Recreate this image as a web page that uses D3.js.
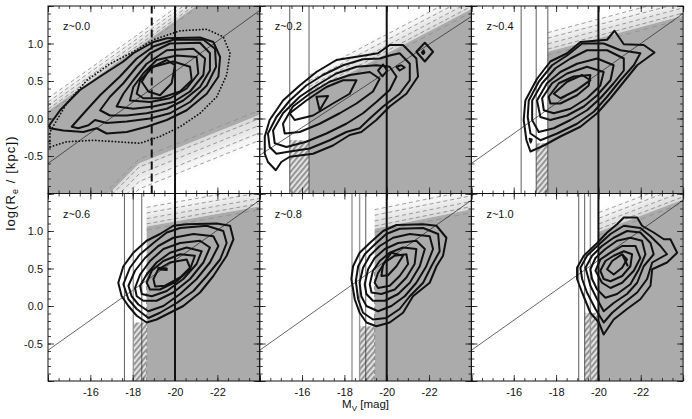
<!DOCTYPE html>
<html><head><meta charset="utf-8">
<script src="https://cdn.jsdelivr.net/npm/d3@7"></script>
<style>
body{margin:0;background:#fff}
svg{display:block}
text{font-family:"Liberation Sans",Arial,Helvetica,sans-serif;fill:#111}
</style>
</head><body>
<svg id="c" width="692" height="419"></svg>
<script>
// ---------------- data ----------------
const redshiftLabels = ["z~0.0","z~0.2","z~0.4","z~0.6","z~0.8","z~1.0"];
const xDomain = [-14, -24];
const yDomain = [-1, 1.5];
const xTickLabels = [-16, -18, -20, -22];
const yTickLabels = [1.0, 0.5, 0.0, -0.5];
const xMajor = [-14, -16, -18, -20, -22, -24];
const yMajor = [-1, -0.5, 0, 0.5, 1, 1.5];

// bright magnitude cut (thick solid line) per panel
const brightCut = [-20, -20, -20, -20, -20, -20];
// dashed thick cut in the z~0.0 panel
const dashedCutZ00 = -18.9;
// thin dark magnitude limits per panel
const thinCuts = [[], [-15.42, -16.33], [-16.35, -17.06, -17.61], [-17.61, -18.43], [-19.01], [-19.07, -19.35]];
// thin gray magnitude limits per panel
const grayCuts = [[], [], [], [-18.03], [-18.36, -18.72], [-19.62]];
// dashed gray completeness limit per panel
const dashCuts = [null, null, null, -18.66, -19.43, -20.02];
// hatched completeness strips [faint edge, bright edge, top logR]
const strips = [null, [-15.42, -16.33, -0.29], [-17.06, -17.61, -0.33], [-18.03, -18.66, -0.22], [-18.72, -19.43, -0.27], [-19.35, -20.02, -0.09]];
// reference size-luminance relation: logR at M=-14 and at M=-24
const relAt14 = [-0.60, -0.49, -0.60, -0.59, -0.59, -0.59];
const relAt24 = [1.44, 1.36, 1.40, 1.41, 1.41, 1.41];

// gray selection regions (M, logR)
const grayZ00 = [[-14,-1],[-14,0.1],[-21,1.5],[-24,1.5],[-24,0.05],[-18.3,-0.6],[-16.9,-1]];
const grayZ02 = [[-16.33,-1],[-16.33,0.32],[-24,1.46],[-24,-1]];
const grayZ04 = [[-17.61,-1],[-17.61,0.89],[-24,1.37],[-24,-1]];
const grayZ06 = [[-18.66,-1],[-18.66,1.06],[-24,1.33],[-24,-1]];
const grayZ08 = [[-19.43,-1],[-19.43,1.03],[-24,1.29],[-24,-1]];
const grayZ10 = [[-20.02,-1],[-20.02,0.99],[-24,1.42],[-24,-1]];

// fading (hatched) edges of the gray regions: polyline, direction, width in dex
const fadesZ00 = [{pts: [[-14,0.1],[-24,2.1]], dir: 1, w: 0.2},
                  {pts: [[-14,-1.7],[-16.9,-1],[-18.3,-0.6],[-24,0.05]], dir: -1, w: 0.4}];
const fadesZ02 = [{pts: [[-16.33,0.32],[-24,1.46]], dir: 1, w: 0.3}];
const fadesZ04 = [{pts: [[-17.61,0.89],[-24,1.37]], dir: 1, w: 0.3}];
const fadesZ06 = [{pts: [[-18.66,1.06],[-24,1.33]], dir: 1, w: 0.3}];
const fadesZ08 = [{pts: [[-19.43,1.03],[-24,1.29]], dir: 1, w: 0.3}];
const fadesZ10 = [{pts: [[-20.02,0.99],[-24,1.42]], dir: 1, w: 0.3}];

// density contours (M_V, logR_e)
const contoursZ00 = [
 [[-14.06,-0.09],[-14.57,0.11],[-15.51,0.38],[-16.46,0.56],[-17.56,0.76],[-18.03,0.87],[-18.98,1.02],[-19.61,1.07],[-21.18,1.08],[-21.81,1.02],[-22.13,0.82],[-22.05,0.56],[-21.50,0.33],[-20.55,0.11],[-19.61,-0.02],[-18.66,-0.11],[-17.72,-0.18],[-16.77,-0.20],[-16.30,-0.13],[-15.67,-0.18],[-14.72,-0.16],[-14.09,-0.13]],
 [[-15.12,-0.11],[-15.75,0.09],[-16.46,0.31],[-17.40,0.56],[-18.19,0.80],[-18.98,0.96],[-19.92,1.05],[-21.34,1.05],[-21.89,0.93],[-21.94,0.69],[-21.50,0.44],[-20.71,0.22],[-19.76,0.07],[-18.82,0.0],[-17.72,-0.04],[-16.77,-0.06],[-16.22,-0.02],[-15.91,-0.09],[-15.43,-0.13]],
 [[-16.46,0.11],[-16.93,0.29],[-17.56,0.47],[-18.19,0.69],[-18.82,0.87],[-19.76,1.0],[-21.18,1.01],[-21.65,0.87],[-21.65,0.64],[-21.18,0.42],[-20.39,0.24],[-19.61,0.13],[-18.66,0.07],[-17.72,0.04],[-16.93,0.04]],
 [[-17.24,0.16],[-17.56,0.33],[-18.03,0.51],[-18.66,0.73],[-19.61,0.91],[-20.87,0.93],[-21.42,0.8],[-21.34,0.58],[-20.71,0.36],[-19.92,0.22],[-18.98,0.16],[-18.03,0.13]],
 [[-17.87,0.24],[-18.03,0.42],[-18.50,0.6],[-19.13,0.78],[-20.08,0.84],[-21.02,0.82],[-21.10,0.6],[-20.55,0.4],[-19.76,0.27],[-18.82,0.22]],
 [[-18.19,0.33],[-18.35,0.51],[-18.98,0.69],[-19.92,0.76],[-20.71,0.69],[-20.79,0.51],[-20.24,0.36],[-19.29,0.27],[-18.50,0.27]],
 [[-18.43,0.49],[-18.82,0.67],[-19.61,0.78],[-20.0,0.71],[-19.84,0.47],[-19.29,0.31],[-18.74,0.36]]
];
const dottedZ00 = [[-14.09,-0.38],[-14.09,-0.18],[-14.88,0.2],[-15.83,0.51],[-16.93,0.73],[-18.03,0.89],[-18.98,1.05],[-20.24,1.17],[-21.5,1.19],[-22.28,1.09],[-22.6,0.87],[-22.44,0.58],[-21.97,0.29],[-21.18,0.07],[-20.24,-0.11],[-19.29,-0.24],[-18.35,-0.33],[-17.24,-0.31],[-16.14,-0.29],[-14.88,-0.31]];

const contoursZ02 = [
 [[-14.24,-0.24],[-14.47,-0.02],[-15.10,0.24],[-15.89,0.44],[-16.68,0.62],[-17.62,0.78],[-18.72,0.83],[-19.59,0.87],[-20.14,0.98],[-20.77,0.98],[-21.40,0.8],[-21.48,0.56],[-20.93,0.33],[-20.14,0.16],[-19.51,-0.02],[-18.80,-0.18],[-18.25,-0.22],[-17.46,-0.36],[-16.52,-0.47],[-15.42,-0.51],[-15.02,-0.58],[-14.76,-0.69],[-14.39,-0.58],[-14.24,-0.47]],
 [[-14.39,-0.2],[-14.79,0.02],[-15.42,0.24],[-16.20,0.44],[-16.99,0.58],[-17.94,0.71],[-18.88,0.79],[-19.67,0.8],[-20.14,0.84],[-20.61,0.87],[-21.09,0.73],[-21.09,0.51],[-20.61,0.33],[-19.83,0.16],[-19.20,0.0],[-18.72,-0.13],[-18.09,-0.18],[-17.31,-0.29],[-16.36,-0.4],[-15.42,-0.44],[-14.79,-0.47],[-14.47,-0.38]],
 [[-14.63,-0.16],[-15.10,0.07],[-15.89,0.29],[-16.68,0.44],[-17.62,0.6],[-18.57,0.69],[-19.51,0.71],[-20.14,0.69],[-20.46,0.56],[-20.14,0.38],[-19.51,0.22],[-18.88,0.07],[-18.09,-0.07],[-17.15,-0.2],[-16.20,-0.31],[-15.26,-0.38],[-14.71,-0.33]],
 [[-15.10,-0.07],[-15.57,0.16],[-16.36,0.33],[-17.31,0.49],[-18.25,0.58],[-19.20,0.62],[-19.67,0.53],[-19.35,0.36],[-18.57,0.2],[-17.78,0.07],[-16.83,-0.07],[-15.89,-0.18],[-15.18,-0.2]],
 [[-15.42,0.07],[-16.20,0.24],[-17.15,0.42],[-17.94,0.51],[-18.57,0.51],[-18.25,0.33],[-17.46,0.2],[-16.52,0.04],[-15.65,-0.02]],
 [[-16.68,0.29],[-17.23,0.3],[-16.83,0.11]],
 [[-19.59,0.64],[-19.83,0.72],[-20.02,0.64],[-19.80,0.56]],
 [[-20.46,0.69],[-20.69,0.71],[-20.85,0.68],[-20.61,0.64]],
 [[-21.40,0.89],[-21.80,1.01],[-22.19,0.89],[-21.80,0.76]],
 [[-21.66,0.88],[-21.74,0.91],[-21.78,0.88],[-21.72,0.86]]
];

const contoursZ04 = [
 [[-16.55,0.24],[-17.10,0.53],[-17.73,0.76],[-18.52,0.87],[-19.15,1.02],[-20.41,1.05],[-20.76,1.17],[-21.20,0.99],[-22.14,0.98],[-22.65,0.88],[-21.83,0.71],[-21.20,0.49],[-20.57,0.27],[-19.94,0.07],[-19.15,-0.11],[-18.20,-0.24],[-17.42,-0.36],[-16.79,-0.44],[-16.60,-0.29],[-16.47,-0.02]],
 [[-16.71,0.24],[-17.18,0.49],[-17.81,0.71],[-18.52,0.84],[-19.23,1.0],[-20.25,1.0],[-21.04,0.91],[-21.98,0.87],[-21.67,0.71],[-21.04,0.51],[-20.41,0.29],[-19.78,0.09],[-18.99,-0.07],[-18.05,-0.2],[-17.26,-0.29],[-16.79,-0.2],[-16.66,0.02]],
 [[-16.87,0.24],[-17.34,0.47],[-17.97,0.67],[-18.68,0.8],[-19.46,0.91],[-20.41,0.91],[-21.20,0.8],[-21.20,0.64],[-20.72,0.47],[-20.09,0.27],[-19.46,0.11],[-18.68,-0.02],[-17.89,-0.13],[-17.18,-0.18],[-16.87,-0.02]],
 [[-17.10,0.24],[-17.57,0.47],[-18.20,0.62],[-18.99,0.73],[-19.94,0.8],[-20.72,0.71],[-20.57,0.51],[-19.94,0.31],[-19.31,0.16],[-18.52,0.04],[-17.73,-0.02],[-17.26,0.02]],
 [[-17.34,0.27],[-17.81,0.47],[-18.52,0.6],[-19.46,0.69],[-20.25,0.62],[-20.09,0.44],[-19.46,0.27],[-18.68,0.13],[-17.89,0.07],[-17.42,0.11]],
 [[-17.65,0.29],[-18.13,0.47],[-18.83,0.56],[-19.62,0.58],[-19.54,0.44],[-18.99,0.31],[-18.20,0.2],[-17.73,0.2]],
 [[-17.89,0.33],[-18.52,0.49],[-19.23,0.58],[-19.62,0.51],[-18.99,0.38],[-18.20,0.27]],
 [[-16.75,-0.27],[-16.85,-0.28],[-16.80,-0.32]]
];

const contoursZ06 = [
 [[-17.32,0.31],[-17.56,0.53],[-18.03,0.71],[-18.66,0.87],[-19.29,0.96],[-19.92,1.07],[-20.55,1.09],[-21.97,1.10],[-22.60,1.07],[-22.76,0.89],[-22.44,0.67],[-21.81,0.4],[-21.18,0.18],[-20.39,0.0],[-19.76,-0.09],[-19.13,-0.18],[-18.66,-0.22],[-18.19,-0.13],[-17.80,0.0],[-17.48,0.13]],
 [[-17.56,0.29],[-17.87,0.51],[-18.35,0.69],[-18.98,0.84],[-19.61,0.98],[-20.24,1.04],[-21.50,1.07],[-22.28,1.0],[-22.44,0.84],[-22.13,0.62],[-21.50,0.4],[-20.87,0.2],[-20.08,0.04],[-19.29,-0.09],[-18.74,-0.16],[-18.19,-0.04],[-17.80,0.09]],
 [[-17.80,0.27],[-18.11,0.47],[-18.58,0.64],[-19.21,0.8],[-19.92,0.91],[-20.87,0.96],[-21.81,0.93],[-22.05,0.8],[-21.65,0.58],[-21.02,0.36],[-20.24,0.16],[-19.45,0.0],[-18.74,-0.07],[-18.27,0.02],[-17.95,0.13]],
 [[-18.11,0.24],[-18.35,0.42],[-18.82,0.6],[-19.45,0.76],[-20.24,0.84],[-21.18,0.87],[-21.65,0.78],[-21.34,0.58],[-20.71,0.36],[-19.92,0.18],[-19.13,0.07],[-18.50,0.07],[-18.19,0.13]],
 [[-18.35,0.27],[-18.66,0.42],[-19.13,0.58],[-19.76,0.71],[-20.55,0.78],[-21.26,0.73],[-21.02,0.56],[-20.39,0.36],[-19.61,0.2],[-18.90,0.13],[-18.43,0.16]],
 [[-18.66,0.31],[-18.90,0.47],[-19.45,0.6],[-20.24,0.69],[-20.94,0.67],[-20.71,0.49],[-20.08,0.33],[-19.29,0.22],[-18.82,0.22]],
 [[-18.98,0.36],[-19.21,0.49],[-19.76,0.58],[-20.55,0.62],[-20.71,0.51],[-20.24,0.38],[-19.53,0.27],[-19.06,0.26]],
 [[-19.21,0.51],[-19.61,0.50],[-19.61,0.48],[-19.21,0.49]]
];

const contoursZ08 = [
 [[-18.33,0.36],[-18.41,0.53],[-18.72,0.71],[-19.20,0.84],[-19.83,1.0],[-20.46,1.08],[-21.72,1.09],[-22.35,1.07],[-22.82,0.91],[-22.66,0.67],[-22.35,0.53],[-22.03,0.31],[-21.24,0.13],[-20.77,-0.09],[-20.14,-0.22],[-19.51,-0.27],[-19.04,-0.22],[-18.72,-0.09],[-18.49,0.09]],
 [[-18.54,0.33],[-18.65,0.53],[-18.96,0.69],[-19.43,0.82],[-19.98,0.96],[-20.61,1.03],[-21.72,1.04],[-22.43,0.96],[-22.50,0.73],[-22.11,0.53],[-21.72,0.31],[-21.09,0.13],[-20.61,-0.04],[-19.98,-0.16],[-19.35,-0.18],[-18.88,-0.09],[-18.65,0.09]],
 [[-18.72,0.31],[-18.88,0.51],[-19.20,0.67],[-19.67,0.8],[-20.30,0.91],[-21.09,0.96],[-22.03,0.93],[-22.19,0.76],[-21.87,0.53],[-21.40,0.31],[-20.85,0.13],[-20.22,0.0],[-19.59,-0.07],[-19.04,0.0],[-18.80,0.13]],
 [[-18.96,0.29],[-19.12,0.49],[-19.43,0.64],[-19.91,0.76],[-20.54,0.84],[-21.40,0.87],[-21.80,0.76],[-21.56,0.53],[-21.09,0.31],[-20.54,0.16],[-19.91,0.07],[-19.35,0.07],[-19.04,0.16]],
 [[-19.20,0.29],[-19.35,0.47],[-19.67,0.6],[-20.14,0.71],[-20.77,0.78],[-21.40,0.76],[-21.32,0.56],[-20.93,0.38],[-20.38,0.22],[-19.75,0.16],[-19.28,0.18]],
 [[-19.43,0.31],[-19.59,0.44],[-19.91,0.58],[-20.38,0.67],[-20.93,0.69],[-21.01,0.56],[-20.61,0.4],[-20.14,0.27],[-19.59,0.24]],
 [[-19.75,0.4],[-19.83,0.56],[-20.22,0.71],[-20.77,0.67],[-20.46,0.53],[-20.06,0.41]]
];

const contoursZ10 = [
 [[-18.99,0.51],[-19.31,0.67],[-19.94,0.84],[-20.41,0.98],[-20.88,1.09],[-21.20,1.18],[-21.83,1.18],[-22.06,1.07],[-22.61,0.98],[-23.09,0.89],[-23.40,0.89],[-23.72,0.71],[-23.24,0.58],[-22.54,0.49],[-22.46,0.27],[-21.98,0.09],[-21.35,-0.04],[-20.72,-0.18],[-20.25,-0.38],[-20.02,-0.22],[-19.62,-0.09],[-19.23,0.18],[-18.99,0.36]],
 [[-19.15,0.51],[-19.46,0.67],[-20.02,0.82],[-20.57,0.96],[-21.20,1.07],[-21.98,1.04],[-22.46,0.93],[-22.93,0.8],[-23.24,0.69],[-22.54,0.58],[-22.30,0.36],[-21.83,0.18],[-21.20,0.04],[-20.65,-0.09],[-20.25,-0.22],[-19.86,-0.04],[-19.46,0.18],[-19.23,0.36]],
 [[-19.39,0.51],[-19.70,0.67],[-20.17,0.8],[-20.72,0.91],[-21.35,1.0],[-21.98,0.98],[-22.46,0.84],[-22.61,0.69],[-22.14,0.53],[-21.83,0.31],[-21.35,0.16],[-20.72,0.04],[-20.25,-0.07],[-19.94,0.09],[-19.62,0.27]],
 [[-19.62,0.49],[-19.86,0.64],[-20.33,0.76],[-20.88,0.87],[-21.51,0.91],[-22.06,0.87],[-22.22,0.69],[-21.91,0.49],[-21.51,0.29],[-20.88,0.16],[-20.33,0.11],[-19.94,0.22],[-19.70,0.36]],
 [[-19.86,0.47],[-20.09,0.62],[-20.57,0.71],[-21.12,0.8],[-21.75,0.8],[-21.98,0.64],[-21.67,0.47],[-21.12,0.31],[-20.57,0.24],[-20.17,0.31]],
 [[-20.09,0.47],[-20.33,0.6],[-20.72,0.67],[-21.20,0.73],[-21.59,0.69],[-21.51,0.53],[-21.12,0.4],[-20.57,0.33],[-20.25,0.36]],
 [[-20.41,0.49],[-20.65,0.6],[-21.12,0.69],[-21.35,0.62],[-21.12,0.51],[-20.72,0.42]],
 [[-21.12,0.69],[-21.39,0.53]]
];

// ---------------- drawing ----------------
const GRAY = "#ababab";
const X0 = 48, PW = 211.7, Y0 = 6, PH = 187.5;
const svg = d3.select("#c");
const defs = svg.append("defs");
const pat = defs.append("pattern").attr("id","hatch").attr("width",4).attr("height",4)
  .attr("patternUnits","userSpaceOnUse").attr("patternTransform","rotate(40)");
pat.append("rect").attr("width",4).attr("height",4).attr("fill","#e2e2e2");
pat.append("rect").attr("width",1.8).attr("height",4).attr("fill","#8e8e8e");

const grays = [grayZ00, grayZ02, grayZ04, grayZ06, grayZ08, grayZ10];
const fades = [fadesZ00, fadesZ02, fadesZ04, fadesZ06, fadesZ08, fadesZ10];
const contours = [contoursZ00, contoursZ02, contoursZ04, contoursZ06, contoursZ08, contoursZ10];

const halfMag = d3.range(-14, -24.01, -0.5);
const tenthDex = d3.range(-1, 1.501, 0.1).map(v => +v.toFixed(2));

redshiftLabels.forEach((lab, i) => {
  const col = i % 3, row = Math.floor(i / 3);
  const px = X0 + col * PW, py = Y0 + row * PH;
  const x = d3.scaleLinear().domain(xDomain).range([px, px + PW]);
  const y = d3.scaleLinear().domain(yDomain).range([py + PH, py]);
  const line = d3.line().x(d => x(d[0])).y(d => y(d[1]));
  const closed = d3.line().x(d => x(d[0])).y(d => y(d[1])).curve(d3.curveLinearClosed);

  defs.append("clipPath").attr("id", "clip" + i).append("rect")
    .attr("x", px).attr("y", py).attr("width", PW).attr("height", PH);
  const g = svg.append("g").attr("clip-path", `url(#clip${i})`);

  // gray region
  g.append("path").attr("d", closed(grays[i])).attr("fill", GRAY);

  // fading hatched edges
  fades[i].forEach(f => {
    const steps = 6;
    for (let k = 0; k < steps; k++) {
      const a = f.w * k / steps, b = f.w * (k + 1) / steps;
      const poly = f.pts.map(q => [q[0], q[1] + f.dir * a])
        .concat(f.pts.slice().reverse().map(q => [q[0], q[1] + f.dir * b]));
      g.append("path").attr("d", closed(poly)).attr("fill", GRAY)
        .attr("opacity", 0.45 * (1 - (k + 0.5) / steps));
    }
    [0.12, 0.35, 0.6, 0.85].forEach(t => {
      g.append("path").attr("d", line(f.pts.map(q => [q[0], q[1] + f.dir * f.w * t])))
        .attr("fill", "none").attr("stroke", "#777").attr("stroke-width", 0.7)
        .attr("stroke-dasharray", "4 3");
    });
    g.append("path").attr("d", line(f.pts.map(q => [q[0], q[1] - f.dir * f.w * 0.15])))
      .attr("fill", "none").attr("stroke", "#8a8a8a").attr("stroke-width", 0.7)
      .attr("stroke-dasharray", "5 4");
  });

  // hatched completeness strip
  if (strips[i]) {
    const s = strips[i];
    g.append("rect").attr("x", x(s[0])).attr("width", x(s[1]) - x(s[0]))
      .attr("y", y(s[2])).attr("height", y(-1) - y(s[2])).attr("fill", "url(#hatch)");
  }

  // size-luminance relation
  g.append("path").attr("d", line([[-14, relAt14[i]], [-24, relAt24[i]]]))
    .attr("stroke", "#222").attr("stroke-width", 0.7).attr("fill", "none");

  // thin magnitude limits
  thinCuts[i].forEach(m => g.append("line").attr("x1", x(m)).attr("x2", x(m))
    .attr("y1", y(-1)).attr("y2", y(1.5)).attr("stroke", "#333").attr("stroke-width", 0.8));
  grayCuts[i].forEach(m => g.append("line").attr("x1", x(m)).attr("x2", x(m))
    .attr("y1", y(-1)).attr("y2", y(1.5)).attr("stroke", "#999").attr("stroke-width", 1.4));
  if (dashCuts[i] !== null) {
    g.append("line").attr("x1", x(dashCuts[i])).attr("x2", x(dashCuts[i]))
      .attr("y1", y(-1)).attr("y2", y(0.5)).attr("stroke", "#888").attr("stroke-width", 1)
      .attr("stroke-dasharray", "4 3");
  }

  // contours
  contours[i].forEach(c => {
    g.append("path").attr("d", c.length > 2 ? closed(c) : line(c))
      .attr("fill", "none").attr("stroke", "#111").attr("stroke-width", 2)
      .attr("stroke-linejoin", "round");
  });
  if (i === 0) {
    g.append("path").attr("d", closed(dottedZ00)).attr("fill", "none")
      .attr("stroke", "#111").attr("stroke-width", 1.8).attr("stroke-linecap", "round")
      .attr("stroke-dasharray", "0.1 3.2");
    g.append("line").attr("x1", x(dashedCutZ00)).attr("x2", x(dashedCutZ00))
      .attr("y1", y(-1)).attr("y2", y(1.5)).attr("stroke", "#111").attr("stroke-width", 2)
      .attr("stroke-dasharray", "8 4");
  }

  // bright cut
  g.append("line").attr("x1", x(brightCut[i])).attr("x2", x(brightCut[i]))
    .attr("y1", y(-1)).attr("y2", y(1.5)).attr("stroke", "#111").attr("stroke-width", 2);

  // frame and ticks
  const a = svg.append("g");
  const addAxis = (gen, tx, ty) => {
    const ag = a.append("g").attr("transform", `translate(${tx},${ty})`).call(gen);
    ag.select(".domain").remove();
    ag.selectAll(".tick line").attr("stroke", "#111").attr("stroke-width", 0.8);
    return ag;
  };
  const showX = row === 1, showY = col === 0;
  addAxis(d3.axisBottom(x).tickValues(halfMag).tickSize(-3).tickFormat(""), 0, py + PH);
  addAxis(d3.axisTop(x).tickValues(halfMag).tickSize(-3).tickFormat(""), 0, py);
  addAxis(d3.axisLeft(y).tickValues(tenthDex).tickSize(-3).tickFormat(""), px, 0);
  addAxis(d3.axisRight(y).tickValues(tenthDex).tickSize(-3).tickFormat(""), px + PW, 0);
  addAxis(d3.axisTop(x).tickValues(xMajor).tickSize(-6).tickFormat(""), 0, py);
  addAxis(d3.axisRight(y).tickValues(yMajor).tickSize(-6).tickFormat(""), px + PW, 0);
  const bx = addAxis(d3.axisBottom(x).tickValues(xMajor).tickSize(-6).tickPadding(7)
    .tickFormat(d => (showX && xTickLabels.includes(d)) ? d3.format("d")(d).replace("−", "-") : ""), 0, py + PH);
  bx.selectAll("text").attr("font-size", 11).attr("fill", "#111").attr("font-family", null);
  const ly = addAxis(d3.axisLeft(y).tickValues(yMajor).tickSize(-6).tickPadding(5)
    .tickFormat(d => (showY && yTickLabels.includes(d)) ? d3.format(".1f")(d).replace("−", "-") : ""), px, 0);
  ly.selectAll("text").attr("font-size", 11).attr("fill", "#111").attr("font-family", null);

  a.append("rect").attr("x", px).attr("y", py).attr("width", PW).attr("height", PH)
    .attr("fill", "none").attr("stroke", "#111").attr("stroke-width", 1);

  a.append("text").attr("x", px + 15).attr("y", py + 24).attr("font-size", 11).text(lab);
});

// axis titles
const xt = svg.append("text").attr("x", X0 + 1.5 * PW).attr("y", 408)
  .attr("text-anchor", "middle").attr("font-size", 11.5);
xt.append("tspan").text("M");
xt.append("tspan").attr("font-size", 8).attr("dy", 3).text("V");
xt.append("tspan").attr("dy", -3).text(" [mag]");

const yt = svg.append("text").attr("transform", "translate(15,183)rotate(-90)")
  .attr("text-anchor", "middle").attr("font-size", 13).attr("letter-spacing", 1.1);
yt.append("tspan").text("log(R");
yt.append("tspan").attr("font-size", 9).attr("dy", 3).text("e");
yt.append("tspan").attr("dy", -3).text(" / [kpc])");
</script>
</body></html>
